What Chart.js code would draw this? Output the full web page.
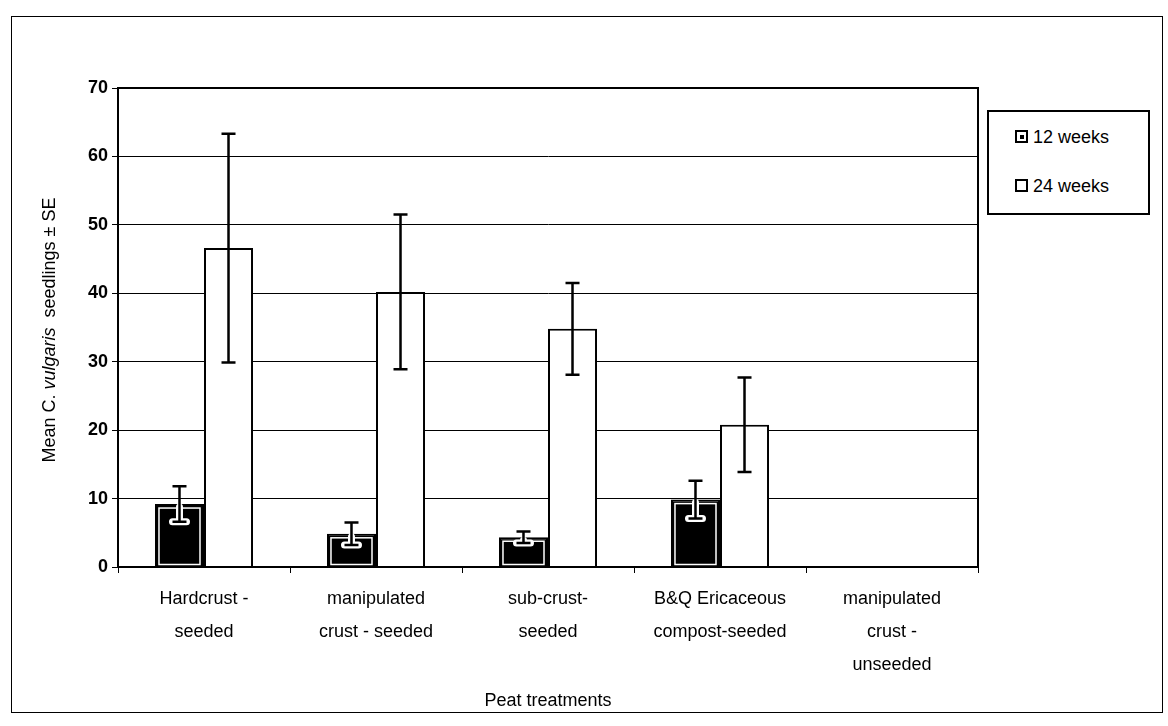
<!DOCTYPE html>
<html>
<head>
<meta charset="utf-8">
<script src="https://cdn.jsdelivr.net/npm/chart.js@4/dist/chart.umd.min.js"></script>
<style>
  body { margin: 0; background: #fff; font-family: "Liberation Sans", Arial, sans-serif; }
  #wrap { position: relative; width: 1168px; height: 726px; }
  #frame { position: absolute; left: 11px; top: 16px; width: 1150px; height: 695px; border: 1.5px solid #000; pointer-events: none; }
  #legend { position: absolute; left: 987px; top: 110px; width: 163px; height: 105px; border: 2px solid #000; box-sizing: border-box; background: #fff; }
  .item { position: absolute; left: 26px; font-size: 18px; color: #000; line-height: 22px; white-space: nowrap; }
  .sw { display: inline-block; width: 9px; height: 9px; border: 2px solid #000; vertical-align: 0px; margin-right: 5px; position: relative; }
  .sw.dot::after { content: ""; position: absolute; left: 2.5px; top: 2.5px; width: 4px; height: 4px; background: #000; }
</style>
</head>
<body>
<div id="wrap">
  <canvas id="myChart" width="1168" height="726"></canvas>
  <div id="frame"></div>
  <div id="legend">
    <div class="item" style="top:14px"><span class="sw dot"></span>12 weeks</div>
    <div class="item" style="top:63px"><span class="sw"></span>24 weeks</div>
  </div>
</div>
<script>
const categories = [
  ["Hardcrust -", "seeded"],
  ["manipulated", "crust - seeded"],
  ["sub-crust-", "seeded"],
  ["B&Q Ericaceous", "compost-seeded"],
  ["manipulated", "crust -", "unseeded"]
];
const weeks12 = [9.2, 4.85, 4.35, 9.85, 0];
const weeks12SE = [2.6, 1.65, 0.85, 2.75, 0];
const weeks24 = [46.6, 40.2, 34.8, 20.8, 0];
const weeks24SE = [16.7, 11.3, 6.7, 6.9, 0];
const yTicks = [0, 10, 20, 30, 40, 50, 60, 70];

const FONT = "Liberation Sans, Arial, sans-serif";

/* ---------- dark bar inner outline + error bars ---------- */
const extrasPlugin = {
  id: "extras",
  afterDatasetsDraw(chart) {
    const ctx = chart.ctx;
    const y = chart.scales.y;
    const area = chart.chartArea;

    // plot area box
    ctx.save();
    ctx.strokeStyle = "#000";
    ctx.lineWidth = 2;
    ctx.strokeRect(area.left, area.top, area.right - area.left, area.bottom - area.top);

    // white inner line on black bars
    chart.getDatasetMeta(0).data.forEach((bar) => {
      const h = bar.base - bar.y;
      if (h < 8) return;
      ctx.strokeStyle = "#fff";
      ctx.lineWidth = 1.5;
      ctx.strokeRect(bar.x - bar.width / 2 + 4, bar.y + 4, bar.width - 8, h - 6);
    });

    const errs = [weeks12SE, weeks24SE];
    const vals = [weeks12, weeks24];
    [0, 1].forEach((di) => {
      chart.getDatasetMeta(di).data.forEach((bar, j) => {
        const se = errs[di][j];
        if (!se) return;
        const v = vals[di][j];
        const top = y.getPixelForValue(v + se);
        const bot = y.getPixelForValue(v - se);
        const x = bar.x;
        const cap = 7;
        if (di === 0) {
          // white halo for the part inside the dark bar
          ctx.strokeStyle = "#fff";
          ctx.lineWidth = 7;
          ctx.lineCap = "round";
          ctx.beginPath();
          ctx.moveTo(x, bar.y + 3);
          ctx.lineTo(x, bot);
          ctx.moveTo(x - cap, bot);
          ctx.lineTo(x + cap, bot);
          ctx.stroke();
        }
        ctx.strokeStyle = "#000";
        ctx.lineWidth = 2.5;
        ctx.lineCap = "butt";
        ctx.beginPath();
        ctx.moveTo(x, top);
        ctx.lineTo(x, bot);
        ctx.moveTo(x - cap, top);
        ctx.lineTo(x + cap, top);
        ctx.moveTo(x - cap, bot);
        ctx.lineTo(x + cap, bot);
        ctx.stroke();
      });
    });
    ctx.restore();
  },
  afterDraw(chart) {
    // y-axis title with italic species name
    const ctx = chart.ctx;
    const parts = [
      { t: "Mean C. ", f: "18px " + FONT },
      { t: "vulgaris", f: "italic 18px " + FONT },
      { t: "  seedlings \u00b1 SE", f: "18px " + FONT }
    ];
    ctx.save();
    let total = 0;
    parts.forEach((p) => { ctx.font = p.f; p.w = ctx.measureText(p.t).width; total += p.w; });
    ctx.translate(50, 330);
    ctx.rotate(-Math.PI / 2);
    ctx.fillStyle = "#000";
    ctx.textBaseline = "middle";
    let x = -total / 2;
    parts.forEach((p) => { ctx.font = p.f; ctx.fillText(p.t, x, 0); x += p.w; });
    ctx.restore();
  }
};

const ctx = document.getElementById("myChart").getContext("2d");
new Chart(ctx, {
  type: "bar",
  data: {
    labels: categories,
    datasets: [
      {
        label: "12 weeks",
        data: weeks12,
        backgroundColor: "#000",
        borderColor: "#000",
        borderWidth: 2,
        categoryPercentage: 0.57,
        barPercentage: 1.0
      },
      {
        label: "24 weeks",
        data: weeks24,
        backgroundColor: "#fff",
        borderColor: "#000",
        borderWidth: 2,
        categoryPercentage: 0.57,
        barPercentage: 1.0
      }
    ]
  },
  options: {
    responsive: false,
    animation: false,
    layout: { padding: { left: 0, top: 88, right: 190, bottom: 12 } },
    plugins: { legend: { display: false }, tooltip: { enabled: false } },
    scales: {
      x: {
        grid: { drawOnChartArea: false, drawTicks: true, tickLength: 6, color: "#000", lineWidth: 1 },
        border: { color: "#000", width: 2 },
        ticks: { color: "#000", font: { family: FONT, size: 18, lineHeight: 1.85 }, maxRotation: 0, autoSkip: false, padding: 9 },
        title: { display: true, text: "Peat treatments", color: "#000", font: { family: FONT, size: 18 }, padding: { top: 0, bottom: 2 } },
        afterFit: (s) => { s.height = 726 - 12 - 567; }
      },
      y: {
        min: 0,
        max: 70,
        afterBuildTicks: (s) => { s.ticks = yTicks.map((v) => ({ value: v })); },
        grid: { color: "#000", lineWidth: 1, tickLength: 6 },
        border: { color: "#000", width: 2 },
        ticks: { color: "#000", font: { family: FONT, size: 18, weight: "bold" }, padding: 4 },
        afterFit: (s) => { s.width = 118; }
      }
    }
  },
  plugins: [extrasPlugin]
});
</script>
</body>
</html>
